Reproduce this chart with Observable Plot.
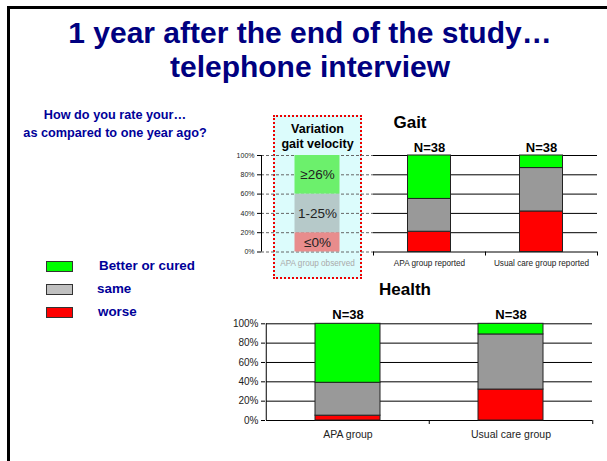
<!DOCTYPE html>
<html>
<head>
<meta charset="utf-8">
<script src="https://cdn.jsdelivr.net/npm/d3@7"></script>
<script src="https://cdn.jsdelivr.net/npm/@observablehq/plot@0.6"></script>
<style>
  html, body { margin: 0; padding: 0; background: #fff; }
  #slide { position: relative; width: 607px; height: 461px; overflow: hidden; background: #fff;
           font-family: "Liberation Sans", Arial, sans-serif; }
  .abs { position: absolute; }
  #frameLine { left: 7px; top: 6px; width: 640px; height: 500px; border-top: 3px solid #000; border-left: 3px solid #000; }
  #title { left: 10px; width: 600px; top: 16px; text-align: center; color: #000080; font-weight: bold; font-size: 30px; line-height: 34px; }
  #question { left: 10px; width: 210px; top: 106px; text-align: center; color: #000099; font-weight: bold; font-size: 12.7px; line-height: 18px; }
  .legRow { position: absolute; left: 46px; height: 12px; }
  .legBox { position: absolute; left: 0; top: 0; width: 25px; height: 9px; border: 1px solid #333; }
  .legText { position: absolute; top: -3px; white-space: nowrap; color: #000099; font-weight: bold; font-size: 13.4px; }
  .ctitle { position: absolute; font-weight: bold; font-size: 17px; color: #000; transform: translate(-50%, -50%); white-space: nowrap; }
  #obsBox { left: 273px; top: 115px; width: 85px; height: 160px; background: #dcfcfc; border: 2px dotted #ee0000; }
  #gait, #health { position: absolute; }
</style>
</head>
<body>
<div id="slide">
  <div id="frameLine" class="abs"></div>
  <div id="title" class="abs">1 year after the end of the study…<br>telephone interview</div>
  <div id="question" class="abs">How do you rate your…<br>as compared to one year ago?</div>
  <div id="legend"></div>
  <div id="obsBox" class="abs"></div>
  <div id="gait"></div>
  <div id="health"></div>
  <div class="ctitle" style="left:410px; top:123px;">Gait</div>
  <div class="ctitle" style="left:405px; top:290px;">Health</div>
</div>
<script>
// ---------- data ----------
const responses = ["worse", "same", "Better or cured"];
const responseColors = ["#ff0000", "#999999", "#00ff00"];
const legendColors = ["#00ff00", "#c0c0c0", "#ff0000"];
const legendLabels = ["Better or cured", "same", "worse"];

const gaitCategories = ["APA group observed", "APA group reported", "Usual care group reported"];
const observedBands = ["≤0%", "1-25%", "≥26%"];
const observedColors = ["#e88c8c", "#b6c9c9", "#6cf06c"];
const gaitObserved = [20, 40, 40];
const gaitApaReported = [21, 34, 45];
const gaitUsualReported = [42, 45, 13];
const gaitN = ["", "N=38", "N=38"];

const healthCategories = ["APA group", "Usual care group"];
const healthApa = [5, 34, 61];
const healthUsual = [32, 57, 11];
const healthN = ["N=38", "N=38"];

const yTicks = [0, 20, 40, 60, 80, 100];

// ---------- legend ----------
const legend = document.getElementById("legend");
const legTops = [261, 284, 307];
const legTextX = [53, 51, 52];
legendLabels.forEach((lab, i) => {
  const row = document.createElement("div");
  row.className = "legRow";
  row.style.top = legTops[i] + "px";
  row.innerHTML = `<div class="legBox" style="background:${legendColors[i]}"></div><div class="legText" style="left:${legTextX[i]}px">${lab}</div>`;
  legend.appendChild(row);
});

// ---------- tables ----------
const colorOf = Object.fromEntries(responses.map((r, i) => [r, responseColors[i]]));
function rows(cat, values) {
  return responses.map((r, i) => ({cat, response: r, value: values[i]}));
}
const gaitObservedRows = observedBands.map((b, i) => ({cat: gaitCategories[0], band: b, value: gaitObserved[i], color: observedColors[i]}));
const gaitReportedRows = [...rows(gaitCategories[1], gaitApaReported), ...rows(gaitCategories[2], gaitUsualReported)];
const healthRows = [...rows(healthCategories[0], healthApa), ...rows(healthCategories[1], healthUsual)];

const gridGait = gaitCategories.flatMap(c => yTicks.map(t => ({cat: c, y: t})));
const gridHealth = healthCategories.flatMap(c => yTicks.map(t => ({cat: c, y: t})));

// ---------- Gait chart ----------
const gW = 385, gH = 176, gML = 41, gMR = 8;
const gStep = (gW - gML - gMR) / gaitCategories.length;
const gait = Plot.plot({
  width: gW, height: gH,
  marginLeft: gML, marginRight: gMR, marginTop: 45, marginBottom: 34.5,
  style: {background: "transparent", fontFamily: "Liberation Sans, Arial, sans-serif", overflow: "visible"},
  x: {type: "band", domain: gaitCategories, padding: 0, label: null},
  y: {domain: [0, 100], label: null},
  marks: [
    Plot.tickY(gridGait.filter(d => d.cat !== gaitCategories[0]), {x: "cat", y: "y", stroke: "#000", strokeWidth: 1}),
    Plot.tickY(gridGait.filter(d => d.cat === gaitCategories[0]), {x: "cat", y: "y", stroke: "#666", strokeWidth: 1, strokeDasharray: "3,2"}),
    Plot.barY(gaitObservedRows, Plot.stackY({x: "cat", y: "value", fill: "color", insetLeft: 33.5, insetRight: 33.5})),
    Plot.text(gaitObservedRows, Plot.stackY({x: "cat", y: "value", text: "band", fontSize: 13.5, fill: "#222"})),
    Plot.barY(gaitReportedRows, Plot.stackY({x: "cat", y: "value", fill: d => colorOf[d.response], stroke: "#222", strokeWidth: 1, insetLeft: 34.5, insetRight: 34.5})),
    Plot.text(gaitCategories.map((c, i) => ({cat: c, n: gaitN[i]})).filter(d => d.n), {x: "cat", y: 100, text: "n", dy: -8, fontSize: 13, fontWeight: "bold", fill: "#000"}),
    Plot.text([{cat: gaitCategories[0], t: "Variation\ngait velocity"}], {x: "cat", y: 100, text: "t", dy: -20, fontSize: 12.5, fontWeight: "bold", lineHeight: 1.25, fill: "#000"}),
    Plot.ruleX([gaitCategories[0]], {x: d => d, dx: -gStep / 2, stroke: "#000"}),
    Plot.ruleX(gaitCategories.slice(1), {x: d => d, y1: 0, y2: 0, dx: -gStep / 2, insetBottom: -4, stroke: "#000"}),
    Plot.ruleX(gaitCategories.slice(-1), {x: d => d, y1: 0, y2: 0, dx: gStep / 2, insetBottom: -4, stroke: "#000"}),
    Plot.axisY({ticks: yTicks, tickFormat: d => d + "%", tickSize: 4, tickPadding: 3, fontSize: 7, fill: "#222"}),
    Plot.axisX({tickSize: 0, tickPadding: 8, fontSize: 8.2, fill: (d) => d === gaitCategories[0] ? "#aaaaaa" : "#222"})
  ]
});
const gDiv = document.getElementById("gait");
gDiv.style.left = "220px"; gDiv.style.top = "110px";
gDiv.appendChild(gait);

// ---------- Health chart ----------
const hW = 385, hH = 145, hML = 50, hMR = 8;
const hStep = (hW - hML - hMR) / healthCategories.length;
const health = Plot.plot({
  width: hW, height: hH,
  marginLeft: hML, marginRight: hMR, marginTop: 23.3, marginBottom: 25,
  style: {background: "transparent", fontFamily: "Liberation Sans, Arial, sans-serif", overflow: "visible"},
  x: {type: "band", domain: healthCategories, padding: 0, label: null},
  y: {domain: [0, 100], label: null},
  marks: [
    Plot.tickY(gridHealth, {x: "cat", y: "y", stroke: "#000", strokeWidth: 1}),
    Plot.barY(healthRows, Plot.stackY({x: "cat", y: "value", fill: d => colorOf[d.response], stroke: "#222", strokeWidth: 1, insetLeft: 49, insetRight: 49})),
    Plot.text(healthCategories.map((c, i) => ({cat: c, n: healthN[i]})), {x: "cat", y: 100, text: "n", dy: -9, fontSize: 13, fontWeight: "bold", fill: "#000"}),
    Plot.ruleX([healthCategories[0]], {x: d => d, dx: -hStep / 2, stroke: "#000"}),
    Plot.ruleX(healthCategories.slice(1), {x: d => d, y1: 0, y2: 0, dx: -hStep / 2, insetBottom: -4, stroke: "#000"}),
    Plot.ruleX(healthCategories.slice(-1), {x: d => d, y1: 0, y2: 0, dx: hStep / 2, insetBottom: -4, stroke: "#000"}),
    Plot.axisY({ticks: yTicks, tickFormat: d => d + "%", tickSize: 4, tickPadding: 3, fontSize: 10, fill: "#222"}),
    Plot.axisX({tickSize: 0, tickPadding: 10, fontSize: 10.5, fill: "#222"})
  ]
});
const hDiv = document.getElementById("health");
hDiv.style.left = "215px"; hDiv.style.top = "300px";
hDiv.appendChild(health);
</script>
</body>
</html>
